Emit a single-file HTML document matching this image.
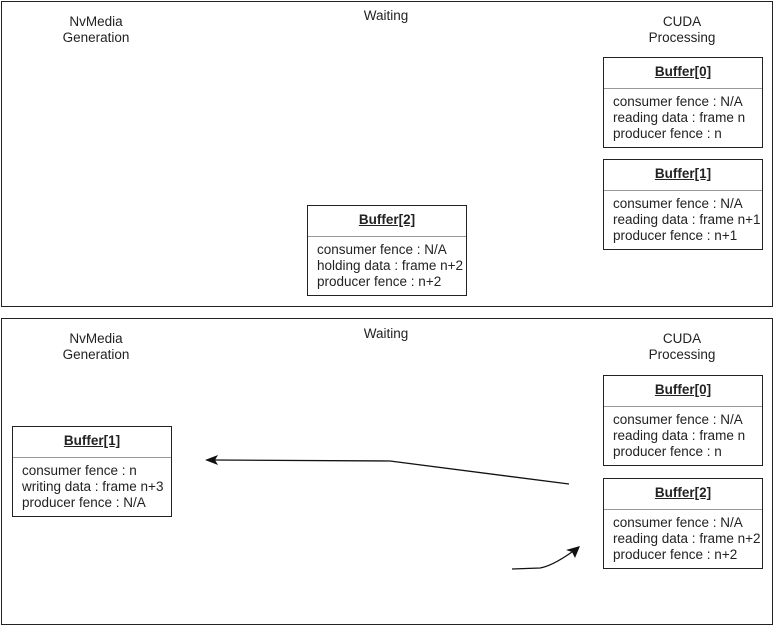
<!DOCTYPE html>
<html><head><style>
body{margin:0;width:774px;height:626px;background:#fff;position:relative;font-family:"Liberation Sans",sans-serif;font-size:13.5px;color:#222;overflow:hidden}
.panel{position:absolute;border:1.3px solid #222;box-sizing:border-box}
.lbl{position:absolute;text-align:center;line-height:16px;width:120px}
.box{position:absolute;width:160px;height:91px;border:1.3px solid #222;box-sizing:border-box;background:#fff}
.box .h{height:30px;border-bottom:1.3px solid #999;text-align:center;font-weight:bold;text-decoration:underline;line-height:28px}
.box .b{padding:5px 0 0 9px;line-height:16px;white-space:nowrap}
</style></head><body>
<div class="panel" style="left:1px;top:1px;width:772px;height:306px"></div>
<div class="panel" style="left:1px;top:318px;width:772px;height:307px"></div>

<div class="lbl" style="left:36px;top:14px">NvMedia<br>Generation</div>
<div class="lbl" style="left:326px;top:8px">Waiting</div>
<div class="lbl" style="left:622px;top:14px">CUDA<br>Processing</div>
<div class="lbl" style="left:36px;top:331px">NvMedia<br>Generation</div>
<div class="lbl" style="left:326px;top:326px">Waiting</div>
<div class="lbl" style="left:622px;top:331px">CUDA<br>Processing</div>

<div class="box" style="left:603px;top:57px"><div class="h">Buffer[0]</div><div class="b">consumer fence : N/A<br>reading data : frame n<br>producer fence : n</div></div>
<div class="box" style="left:603px;top:159px"><div class="h">Buffer[1]</div><div class="b">consumer fence : N/A<br>reading data : frame n+1<br>producer fence : n+1</div></div>
<div class="box" style="left:307px;top:205px"><div class="h">Buffer[2]</div><div class="b">consumer fence : N/A<br>holding data : frame n+2<br>producer fence : n+2</div></div>

<div class="box" style="left:603px;top:375px"><div class="h">Buffer[0]</div><div class="b">consumer fence : N/A<br>reading data : frame n<br>producer fence : n</div></div>
<div class="box" style="left:603px;top:478px"><div class="h">Buffer[2]</div><div class="b">consumer fence : N/A<br>reading data : frame n+2<br>producer fence : n+2</div></div>
<div class="box" style="left:12px;top:426px"><div class="h">Buffer[1]</div><div class="b">consumer fence : n<br>writing data : frame n+3<br>producer fence : N/A</div></div>

<svg width="774" height="626" style="position:absolute;left:0;top:0">
<path d="M569 484 L390 461 L215 460" fill="none" stroke="#111" stroke-width="1.3"/>
<path d="M205 460 L218 455 L215 460 L218 465 Z" fill="#111"/>
<path d="M512 569 L540 568 Q552 566 572 552" fill="none" stroke="#111" stroke-width="1.3"/>
<path d="M580 546 L575 558 L572 552 L566 550 Z" fill="#111"/>
</svg>
</body></html>
